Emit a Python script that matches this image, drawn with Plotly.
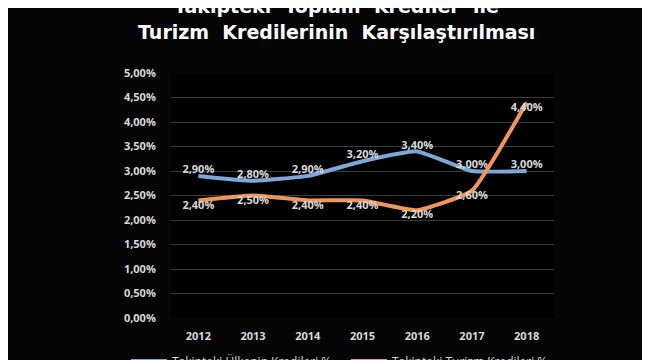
import plotly.graph_objects as go

years = ["2012", "2013", "2014", "2015", "2016", "2017", "2018"]
ulke = [2.90, 2.80, 2.90, 3.20, 3.40, 3.00, 3.00]
turizm = [2.40, 2.50, 2.40, 2.40, 2.20, 2.60, 4.40]
series_names = ["Takipteki Ülkenin Kredileri %", "Takipteki Turizm Kredileri %"]
title_lines = ["Takipteki Toplam Krediler ile", "Turizm Kredilerinin Karşılaştırılması"]
y_ticks = [0, 0.5, 1, 1.5, 2, 2.5, 3, 3.5, 4, 4.5, 5]


def pct(v):
    return f"{v:.2f}".replace(".", ",") + "%"


FONT = "Open Sans"
LBL = "#d9d9d9"

fig = go.Figure()
fig.add_trace(go.Scatter(
    x=years, y=ulke, name=series_names[0], mode="lines+text", legend="legend",
    line=dict(color="#7ea7d9", width=4, shape="spline", smoothing=0.4),
    text=[pct(v) for v in ulke], textposition="top center",
    textfont=dict(color=LBL, size=11, family=FONT, weight="bold"),
))
fig.add_trace(go.Scatter(
    x=years, y=turizm, name=series_names[1], mode="lines+text", legend="legend2",
    line=dict(color="#f0965c", width=4, shape="spline", smoothing=0.4),
    text=[pct(v) for v in turizm], textposition="bottom center",
    textfont=dict(color=LBL, size=11, family=FONT, weight="bold"),
))

for line, py in zip(title_lines, [-2, 24]):
    fig.add_annotation(text=line.replace(" ", "\u00a0\u00a0"), xref="paper", yref="paper",
                       x=(328 - 163) / 383, y=(310 - py) / 245,
                       xanchor="center", yanchor="middle", showarrow=False,
                       font=dict(color="white", size=19, family="DejaVu Sans", weight="bold"))

leg_common = dict(orientation="h", xref="container", yref="container", xanchor="left",
                  y=(360 - 353) / 360, yanchor="middle",
                  font=dict(color=LBL, size=12, family=FONT), bgcolor="rgba(0,0,0,0)",
                  itemwidth=36)

fig.update_layout(
    width=650, height=360,
    paper_bgcolor="#050505", plot_bgcolor="#000000",
    margin=dict(l=163, r=104, t=65, b=50, autoexpand=False),
    showlegend=True,
    legend=dict(x=118 / 650, **leg_common),
    legend2=dict(x=338 / 650, **leg_common),
    xaxis=dict(range=[-0.5, 6.5], showgrid=False, zeroline=False, showline=False,
               ticks="outside", ticklen=8, tickcolor="rgba(0,0,0,0)",
               tickfont=dict(color=LBL, size=11, family=FONT, weight="bold")),
    yaxis=dict(range=[0, 5], tickvals=y_ticks, ticktext=[pct(v) for v in y_ticks],
               showgrid=True, gridcolor="#3a3a3a", gridwidth=1, zeroline=False, showline=False,
               ticks="outside", ticklen=12, tickcolor="rgba(0,0,0,0)",
               tickfont=dict(color=LBL, size=11, family=FONT, weight="bold")),
)

fig.write_html("out.html")
